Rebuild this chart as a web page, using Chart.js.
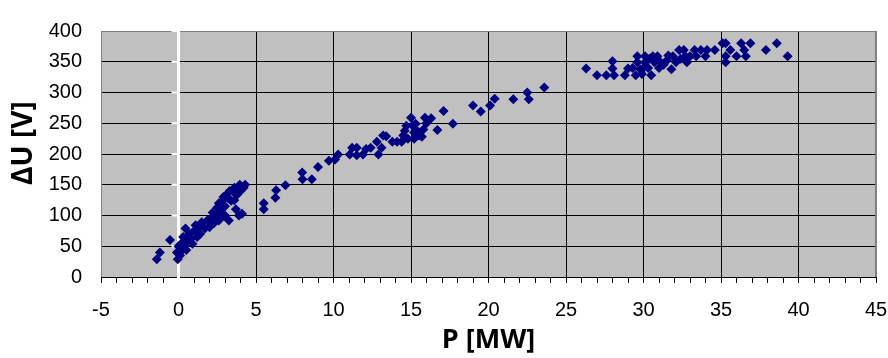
<!DOCTYPE html>
<html>
<head>
<meta charset="utf-8">
<script src="https://cdn.jsdelivr.net/npm/chart.js@4.4.0/dist/chart.umd.min.js"></script>
<style>
  html, body { margin: 0; background: #fff; }
  #wrap { width: 888px; height: 358px; }
</style>
</head>
<body>
<div id="wrap"><canvas id="chart1"></canvas></div>
<script>
// P [MW]
const pX = [
  -1.4, -1.2, -0.55, -0.05, -0.1, 0.0, 0.2, 0.3, 0.45, 0.5, 0.6, 0.7, 0.9, 1.1, 1.2, 1.4, 1.5, 1.7, 1.85, 2.0,
  2.2, 2.4, 2.5, 2.6, 2.7, 2.8, 2.9, 3.0, 3.1, 3.25, 3.4, 3.5, 3.7, 3.8, 3.9, 3.95, 4.1, 4.2, 4.3,
  0.3, 0.8, 1.0, 2.3, 2.6, 3.2, 3.0, 3.6, 0.1, 0.4, 1.3, 2.1, 2.9, 3.3, 3.6, 4.0,
  5.5, 5.5, 6.25, 6.3, 6.9,
  7.98, 8.0, 8.6, 9.0, 9.7, 10.1, 10.3, 11.05, 11.2, 11.5, 11.5, 11.9, 12.1, 12.4, 12.8, 12.9, 13.1, 13.2, 13.4, 13.8,
  14.1, 14.4, 14.5, 14.6, 14.7, 15.0, 15.1, 15.2, 15.3, 15.5, 15.7, 15.8, 15.9, 16.3, 16.7, 17.1, 17.7,
  14.8, 15.4, 16.0, 15.2,
  19.0, 19.5, 20.1, 20.4, 21.6, 22.5, 22.6, 23.6,
  26.3, 27.0, 27.6, 28.0, 28.0, 28.1, 28.8, 29.0, 29.3, 29.5, 29.6, 29.6, 29.8, 30.1, 30.1, 30.3, 30.5, 30.6, 30.7, 30.9,
  31.0, 31.1, 31.5, 31.8, 31.9, 32.1, 32.3, 32.6, 32.7, 32.8, 33.0, 33.3, 33.4, 33.7, 34.0, 34.1, 34.6,
  35.1, 35.3, 35.3, 35.3, 35.6, 36.0, 36.3, 36.5, 36.6, 36.9, 37.9, 38.6, 39.3,
  30.0, 30.4, 31.3, 29.9, 31.6, 32.4
];
// ΔU [V]
const dU = [
  29, 40, 60, 29, 40, 50, 55, 65, 79, 44, 59, 70, 54, 84, 65, 70, 89, 79, 92, 81,
  105, 100, 113, 92, 108, 123, 100, 115, 134, 92, 124, 139, 110, 134, 100, 150, 103, 145, 150,
  45, 62, 75, 88, 120, 128, 100, 145, 35, 50, 80, 95, 130, 140, 125, 140,
  110, 120, 129, 141, 149,
  170, 159, 159, 179, 189, 191, 199, 199, 210, 210, 198, 199, 208, 210, 220, 199, 210, 230, 229, 220,
  220, 220, 230, 238, 246, 259, 246, 235, 249, 230, 228, 240, 259, 258, 239, 270, 249,
  225, 238, 250, 225,
  279, 269, 279, 290, 289, 300, 289, 308,
  339, 328, 328, 351, 339, 328, 328, 339, 340, 328, 359, 349, 338, 359, 349, 340, 328, 359, 349, 359,
  340, 349, 352, 338, 359, 349, 369, 369, 359, 349, 359, 369, 359, 369, 359, 369, 369,
  380, 380, 359, 349, 369, 359, 380, 369, 359, 380, 369, 380, 359,
  340, 355, 345, 330, 360, 355
];
const xMin = -5, xMax = 45;
const yMin = 0, yMax = 400;

const points = pX.map((x, i) => ({ x: x, y: dU[i] }));

// white y axis line at x = 0 with its small ticks, and the gray plot border
const frame = {
  id: 'frame',
  beforeDatasetsDraw(chart) {
    const { ctx, chartArea: a, scales } = chart;
    const x0 = scales.x.getPixelForValue(0);
    ctx.save();
    ctx.strokeStyle = '#808080';
    ctx.lineWidth = 1;
    ctx.strokeRect(a.left + 0.5, a.top + 0.5, a.width - 1, a.height);
    ctx.strokeStyle = '#000';
    ctx.beginPath();
    ctx.moveTo(a.left, a.bottom + 0.5);
    ctx.lineTo(a.right, a.bottom + 0.5);
    ctx.stroke();
    ctx.strokeStyle = '#fff';
    ctx.lineWidth = 3;
    ctx.beginPath();
    ctx.moveTo(x0, a.top);
    ctx.lineTo(x0, a.bottom + 6);
    ctx.stroke();
    ctx.lineWidth = 2;
    scales.y.ticks.forEach(t => {
      if (t.value === 0) return;
      const y = scales.y.getPixelForValue(t.value);
      ctx.beginPath();
      ctx.moveTo(x0 - 7, y);
      ctx.lineTo(x0, y);
      ctx.stroke();
    });
    ctx.restore();
  }
};

const plotBg = {
  id: 'plotBg',
  beforeDraw(chart) {
    const { ctx, chartArea: a } = chart;
    ctx.save();
    ctx.fillStyle = '#c0c0c0';
    ctx.fillRect(a.left, a.top, a.width, a.height);
    ctx.restore();
  }
};

new Chart(document.getElementById('chart1'), {
  type: 'scatter',
  data: {
    datasets: [{
      data: points,
      pointStyle: 'rectRot',
      pointRadius: 5,
      pointHoverRadius: 5,
      backgroundColor: '#000080',
      borderColor: '#000080',
      borderWidth: 0
    }]
  },
  options: {
    responsive: true,
    maintainAspectRatio: false,
    animation: false,
    events: [],
    layout: { padding: { top: 22, right: 12, left: 0, bottom: 0 } },
    plugins: { legend: { display: false }, tooltip: { enabled: false } },
    scales: {
      x: {
        type: 'linear',
        min: xMin,
        max: xMax,
        afterFit: s => { s.height = 81; s.paddingRight = 0; s.paddingLeft = 0; },
        ticks: {
          stepSize: 1,
          autoSkip: false,
          maxRotation: 0,
          padding: 15,
          color: '#000',
          font: { family: 'Liberation Sans', size: 20 },
          callback: v => (v % 5 === 0 ? v : '')
        },
        grid: {
          tickLength: 6,
          color: c => {
            const v = c.tick.value;
            if (v === 0 || v % 5 !== 0) return 'rgba(0,0,0,0)';
            if (v === xMin || v === xMax) return '#808080';
            return '#000';
          },
          tickColor: '#000'
        },
        border: { display: false },
        title: {
          display: true,
          text: 'P [MW]',
          color: '#000',
          font: { family: 'Open Sans', size: 27, weight: 'bold' },
          padding: { top: 0, bottom: 1 }
        }
      },
      y: {
        min: yMin,
        max: yMax,
        afterFit: s => { s.width = 101; },
        ticks: {
          stepSize: 50,
          padding: 19,
          color: '#000',
          font: { family: 'Liberation Sans', size: 20 }
        },
        grid: {
          drawTicks: false,
          color: c => (c.tick.value === yMax ? '#808080' : '#000')
        },
        border: { display: false },
        title: {
          display: true,
          text: '   ΔU [V]',
          color: '#000',
          font: { family: 'Open Sans', size: 28, weight: 'bold' },
          padding: { top: 7, bottom: 0 }
        }
      }
    }
  },
  plugins: [plotBg, frame]
});
</script>
</body>
</html>
